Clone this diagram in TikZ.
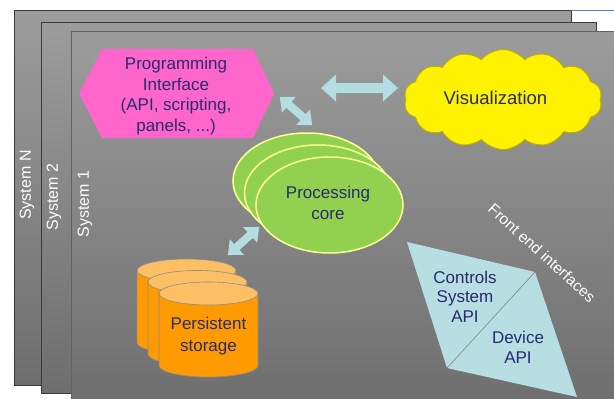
\documentclass[tikz,border=0pt]{standalone}
\usepackage{fontspec}
\setmainfont{Liberation Sans}
\usetikzlibrary{shapes.geometric,shapes.symbols}
\definecolor{txtnavy}{HTML}{2A2A6E}
\definecolor{hexpink}{HTML}{FF66CC}
\definecolor{coregreen}{HTML}{92D050}
\definecolor{coreedge}{HTML}{FFFF99}
\definecolor{cylside}{HTML}{FF9B00}
\definecolor{cyltop}{HTML}{FCBF64}
\definecolor{cyledge}{HTML}{8C8C8C}
\definecolor{apiblue}{HTML}{B7DEE2}
\definecolor{arrowblue}{HTML}{B3DDE0}
\definecolor{panelTop}{HTML}{9C9C9C}
\definecolor{panelBot}{HTML}{6E6E6E}
\definecolor{panelEdge}{HTML}{3A3A3A}
\definecolor{cloudedge}{HTML}{BFAE00}
\definecolor{topline}{HTML}{5B7FC4}
\newcommand{\dblarrow}[6]{% center, angle, half length, half shaft, half head, head length
  \fill[arrowblue,shift={#1},rotate=#2] ({-#3},0) -- ({-#3+#6},{-#5}) -- ({-#3+#6},{-#4}) -- ({#3-#6},{-#4}) -- ({#3-#6},{-#5}) -- ({#3},0) -- ({#3-#6},{#5}) -- ({#3-#6},{#4}) -- ({-#3+#6},{#4}) -- ({-#3+#6},{#5}) -- cycle;}
\newcommand{\cylinder}[3]{% cx, top y, bottom y
  \fill[cylside,draw=cyledge,line width=0.6pt] ({#1-49.5},#2) -- ({#1-49.5},#3) arc[start angle=180,end angle=0,x radius=49.5,y radius=11.5] -- ({#1+49.5},#2) -- cycle;
  \fill[cyltop,draw=cyledge,line width=0.6pt] (#1,#2) ellipse[x radius=49.5,y radius=11.5];}
\tikzset{
  panel/.style={top color=panelTop,bottom color=panelBot,draw=panelEdge,line width=0.8pt},
  systxt/.style={text=white,font=\fontsize{16}{19}\selectfont,rotate=90,inner sep=0pt},
  txt/.style={text=txtnavy,font=\fontsize{17}{20.7}\selectfont,align=center,inner sep=0pt},
  corestyle/.style={ellipse,fill=coregreen,draw=coreedge,line width=1.5pt,minimum width=147pt,minimum height=96pt,inner sep=0pt}
}
\begin{document}
\begin{tikzpicture}[x=1pt,y=-1pt]
\useasboundingbox (0,0) rectangle (614,399);
\fill[white] (0,0) rectangle (614,399);
\begin{scope}
\clip (0,0) rectangle (614,399);
% panels
\draw[panel] (14,10) rectangle (571,385);
\draw[topline,line width=0.8pt] (571,10) -- (614,10);
\draw[panel] (41,22) rectangle (596,393);
\draw[panel,draw=panelEdge!80] (71,31) rectangle (620,410);
\end{scope}
\node[systxt] (sysN) at (27,185) {System N};
\node[systxt] (sys2) at (54,197) {System 2};
\node[systxt] (sys1) at (85,204) {System 1};
% programming interface
\fill[hexpink] (79,93.5) -- (102,49) -- (253,49) -- (274,93.5) -- (253,138) -- (102,138) -- cycle;
\node[txt] (prog) at (176,96) {Programming\\Interface\\(API, scripting,\\panels, ...)};
% visualization cloud
\node[cloud,cloud puffs=14,cloud puff arc=100,aspect=1.7,fill=yellow,draw=cloudedge,line width=1pt,minimum width=198pt,minimum height=100pt,inner sep=0pt] (vis) at (503,99.5) {};
\node[txt,font=\fontsize{18.5}{22}\selectfont] (vistext) at (495.5,98) {Visualization};
% arrows
\dblarrow{(359.5,88)}{0}{38.5}{5}{13.5}{15}
\dblarrow{(296,111)}{-41.2}{21.5}{4}{10.5}{12}
\dblarrow{(243.5,241)}{42}{21}{4}{10.5}{12}
% processing core
\node[corestyle] (core3) at (306.5,181) {};
\node[corestyle] (core2) at (318,193) {};
\node[corestyle] (core1) at (329.5,205) {};
\node[txt] (coretext) at (328,203) {Processing\\core};
% storage
\cylinder{186.5}{270.5}{342.5}
\cylinder{197.5}{282}{354}
\cylinder{208.5}{293.5}{365.5}
\node[txt,font=\fontsize{17}{22}\selectfont] (store) at (208.5,336) {Persistent\\storage};
% front end interfaces
\fill[apiblue] (407,242) coordinate (d1) -- (535,272) coordinate (d2) -- (577,397) coordinate (d3) -- (447,368) coordinate (d4) -- cycle;
\draw[cyledge,line width=0.7pt] (d4) -- (d2);
\node[txt,font=\fontsize{17}{19.5}\selectfont] (ctrl) at (465,296.5) {Controls\\System\\API};
\node[txt,font=\fontsize{17}{20}\selectfont] (dev) at (518,347) {Device\\API};
\node[text=white,font=\fontsize{15.5}{18}\selectfont,rotate=-42,inner sep=0pt] (fe) at (542,253) {Front end interfaces};
\end{tikzpicture}
\end{document}
